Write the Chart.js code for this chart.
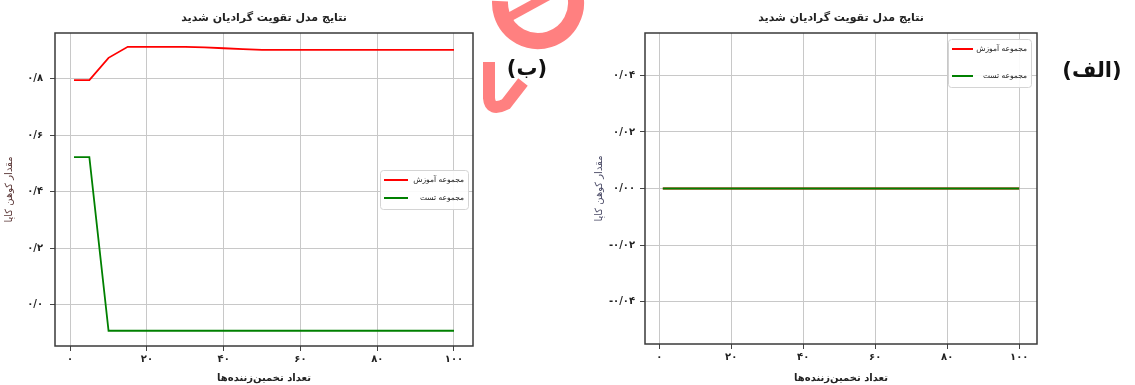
<!DOCTYPE html>
<html lang="fa">
<head>
<meta charset="utf-8">
<script src="https://cdn.jsdelivr.net/npm/chart.js@4.4.1/dist/chart.umd.min.js"></script>
<style>
    html, body { margin: 0; padding: 0; background: #fff; }
    #wrap { position: relative; width: 1135px; height: 385px; overflow: hidden; }
    #wrap canvas { position: absolute; top: 0; }
    #chart-b { left: 0; }
    #chart-a { left: 590px; }
</style>
</head>
<body>
<div id="wrap">
    <canvas id="chart-b" width="590" height="385"></canvas>
    <canvas id="chart-a" width="545" height="385"></canvas>
</div>
<script>
// number of estimators (x values), shared by both panels
const estimators = [1, 5, 10, 15, 20, 25, 30, 35, 40, 45, 50, 55, 60, 65, 70, 75, 80, 85, 90, 95, 100];

// panel (ب): kappa on train / test set
const trainKappaB = [0.795, 0.795, 0.874, 0.913, 0.913, 0.913, 0.913, 0.911, 0.908, 0.905, 0.902,
    0.902, 0.902, 0.902, 0.902, 0.902, 0.902, 0.902, 0.902, 0.902, 0.902];
const testKappaB = [0.522, 0.522, -0.093, -0.093, -0.093, -0.093, -0.093, -0.093, -0.093, -0.093, -0.093,
    -0.093, -0.093, -0.093, -0.093, -0.093, -0.093, -0.093, -0.093, -0.093, -0.093];

// panel (الف): both series sit at zero
const trainKappaA = [0, 0, 0, 0, 0, 0, 0, 0, 0, 0, 0, 0, 0, 0, 0, 0, 0, 0, 0, 0, 0];
const testKappaA = [0, 0, 0, 0, 0, 0, 0, 0, 0, 0, 0, 0, 0, 0, 0, 0, 0, 0, 0, 0, 0];

const xTicks = [0, 20, 40, 60, 80, 100];
const yTicksB = [0.0, 0.2, 0.4, 0.6, 0.8];
const yTicksA = [-0.04, -0.02, 0.0, 0.02, 0.04];

const chartTitle = 'نتایج مدل تقویت گرادیان شدید';
const xTitle = 'تعداد تخمین‌زننده‌ها';
const yTitle = 'مقدار کوهن کاپا';
const trainLabel = 'مجموعه آموزش';
const testLabel = 'مجموعه تست';

const FONT = '"DejaVu Sans", sans-serif';
const faDigits = '۰۱۲۳۴۵۶۷۸۹';

function toFa(value, decimals) {
    const s = Math.abs(value).toFixed(decimals).replace('.', '/').replace(/\d/g, d => faDigits[d]);
    return (value < -1e-9 ? '-' : '') + s;
}

function toPoints(values) {
    return values.map((v, i) => ({ x: estimators[i], y: v }));
}

// legend drawn inside the plot area, like matplotlib
const insideLegend = {
    id: 'insideLegend',
    afterDraw(chart, args, opts) {
        const { ctx, chartArea } = chart;
        const x = chartArea.right - opts.offsetRight - opts.width;
        const y = opts.top != null ? chartArea.top + opts.top
            : (chartArea.top + chartArea.bottom) / 2 - opts.height / 2;
        ctx.save();
        ctx.fillStyle = 'rgba(255,255,255,0.9)';
        ctx.strokeStyle = '#d4d4d4';
        ctx.lineWidth = 1;
        ctx.beginPath();
        ctx.roundRect(x + 0.5, y + 0.5, opts.width, opts.height, 3);
        ctx.fill();
        ctx.stroke();
        chart.data.datasets.forEach((ds, i) => {
            const rowY = y + opts.rows[i];
            ctx.strokeStyle = ds.borderColor;
            ctx.lineWidth = 2;
            ctx.beginPath();
            ctx.moveTo(x + 4, rowY);
            ctx.lineTo(x + 4 + opts.lineLen, rowY);
            ctx.stroke();
            ctx.fillStyle = '#222';
            ctx.font = opts.fontSize + 'px ' + FONT;
            ctx.textAlign = 'right';
            ctx.textBaseline = 'middle';
            ctx.fillText(ds.label, x + opts.width - 4, rowY);
        });
        ctx.restore();
    }
};

// dark frame round the plot area
const frame = {
    id: 'frame',
    afterDraw(chart) {
        const { ctx, chartArea } = chart;
        ctx.save();
        ctx.strokeStyle = '#3a3a3a';
        ctx.lineWidth = 1.5;
        ctx.strokeRect(chartArea.left, chartArea.top, chartArea.width, chartArea.height);
        ctx.restore();
    }
};

// the (الف) / (ب) marks and the red stamp
const panelMark = {
    id: 'panelMark',
    afterDraw(chart, args, opts) {
        const ctx = chart.ctx;
        ctx.save();
        if (opts.stamp) {
            ctx.strokeStyle = '#ff8080';
            ctx.lineCap = 'butt';
            ctx.lineWidth = 16;
            ctx.beginPath();
            ctx.arc(538, 3, 38, -0.3, Math.PI + 0.05);
            ctx.stroke();
            ctx.lineWidth = 9;
            ctx.beginPath();
            ctx.moveTo(504, 20);
            ctx.lineTo(548, -4);
            ctx.stroke();
            ctx.lineWidth = 12;
            ctx.beginPath();
            ctx.moveTo(489, 62);
            ctx.lineTo(489, 98);
            ctx.quadraticCurveTo(490, 112, 506, 104);
            ctx.lineTo(523, 82);
            ctx.stroke();
        }
        ctx.fillStyle = '#111';
        ctx.font = 'bold 21px ' + FONT;
        ctx.textAlign = 'center';
        ctx.textBaseline = 'middle';
        ctx.fillText(opts.text, opts.x, opts.y);
        ctx.restore();
    }
};

function buildChart(canvasId, cfg) {
    const ctx = document.getElementById(canvasId).getContext('2d');
    return new Chart(ctx, {
        type: 'line',
        data: {
            datasets: [{
                label: trainLabel,
                data: toPoints(cfg.train),
                borderColor: '#ff0000',
                borderWidth: 1.8,
                pointRadius: 0,
                tension: 0,
                order: 1
            }, {
                label: testLabel,
                data: toPoints(cfg.test),
                borderColor: '#008000',
                borderWidth: 1.8,
                pointRadius: 0,
                tension: 0,
                order: 0
            }]
        },
        plugins: [insideLegend, frame, panelMark],
        options: {
            responsive: false,
            animation: false,
            layout: { padding: { left: 0, right: cfg.padRight, top: 0, bottom: 0 } },
            plugins: {
                legend: { display: false },
                tooltip: { enabled: false },
                title: {
                    display: true,
                    text: chartTitle,
                    fullSize: false,
                    color: '#222',
                    font: { family: FONT, size: 11, weight: 'bold', lineHeight: 1.2 },
                    padding: { top: 12, bottom: 7.8 }
                },
                insideLegend: cfg.legend,
                panelMark: cfg.mark
            },
            scales: {
                x: {
                    type: 'linear',
                    min: -3.95,
                    max: 104.95,
                    afterBuildTicks: s => { s.ticks = xTicks.map(v => ({ value: v })); },
                    afterFit: s => { s.height = cfg.xHeight; },
                    border: { display: false },
                    grid: { color: '#c8c8c8', lineWidth: 1, tickLength: 5, tickColor: '#444' },
                    ticks: {
                        padding: 2,
                        maxRotation: 0,
                        color: '#222',
                        font: { family: FONT, size: 10, weight: 'bold' },
                        callback: v => toFa(v, 0)
                    },
                    title: {
                        display: true,
                        text: xTitle,
                        color: '#222',
                        font: { family: FONT, size: 10, weight: 'bold', lineHeight: 1.2 },
                        padding: { top: 0, bottom: 1 }
                    }
                },
                y: {
                    type: 'linear',
                    min: cfg.yMin,
                    max: cfg.yMax,
                    afterBuildTicks: s => { s.ticks = cfg.yTicks.map(v => ({ value: v })); },
                    afterFit: s => { s.width = 55; },
                    border: { display: false },
                    grid: { color: '#c8c8c8', lineWidth: 1, tickLength: 5, tickColor: '#444' },
                    ticks: {
                        padding: cfg.yTickPad,
                        color: '#222',
                        font: { family: FONT, size: 10, weight: 'bold' },
                        callback: v => toFa(v, cfg.decimals)
                    },
                    title: {
                        display: true,
                        text: yTitle,
                        color: cfg.yTitleColor,
                        font: { family: FONT, size: 10, lineHeight: 1.2 },
                        padding: { top: 3, bottom: 0 }
                    }
                }
            }
        }
    });
}

document.addEventListener('DOMContentLoaded', () => {
    buildChart('chart-b', {
        train: trainKappaB,
        test: testKappaB,
        yMin: -0.147,
        yMax: 0.962,
        yTicks: yTicksB,
        decimals: 1,
        yTickPad: 7,
        yTitleColor: '#5a3636',
        xHeight: 39,
        padRight: 117,
        legend: { width: 88, height: 39, offsetRight: 5, rows: [10, 28], lineLen: 24, fontSize: 7.5 },
        mark: { text: '(ب)', x: 527, y: 70, stamp: true }
    });
    buildChart('chart-a', {
        train: trainKappaA,
        test: testKappaA,
        yMin: -0.055,
        yMax: 0.055,
        yTicks: yTicksA,
        decimals: 2,
        yTickPad: 5,
        yTitleColor: '#4a4a66',
        xHeight: 41,
        padRight: 98,
        legend: { width: 83, height: 48, offsetRight: 6, top: 6, rows: [10, 37], lineLen: 21, fontSize: 7.5 },
        mark: { text: '(الف)', x: 502, y: 72, stamp: false }
    });
});
</script>
</body>
</html>
